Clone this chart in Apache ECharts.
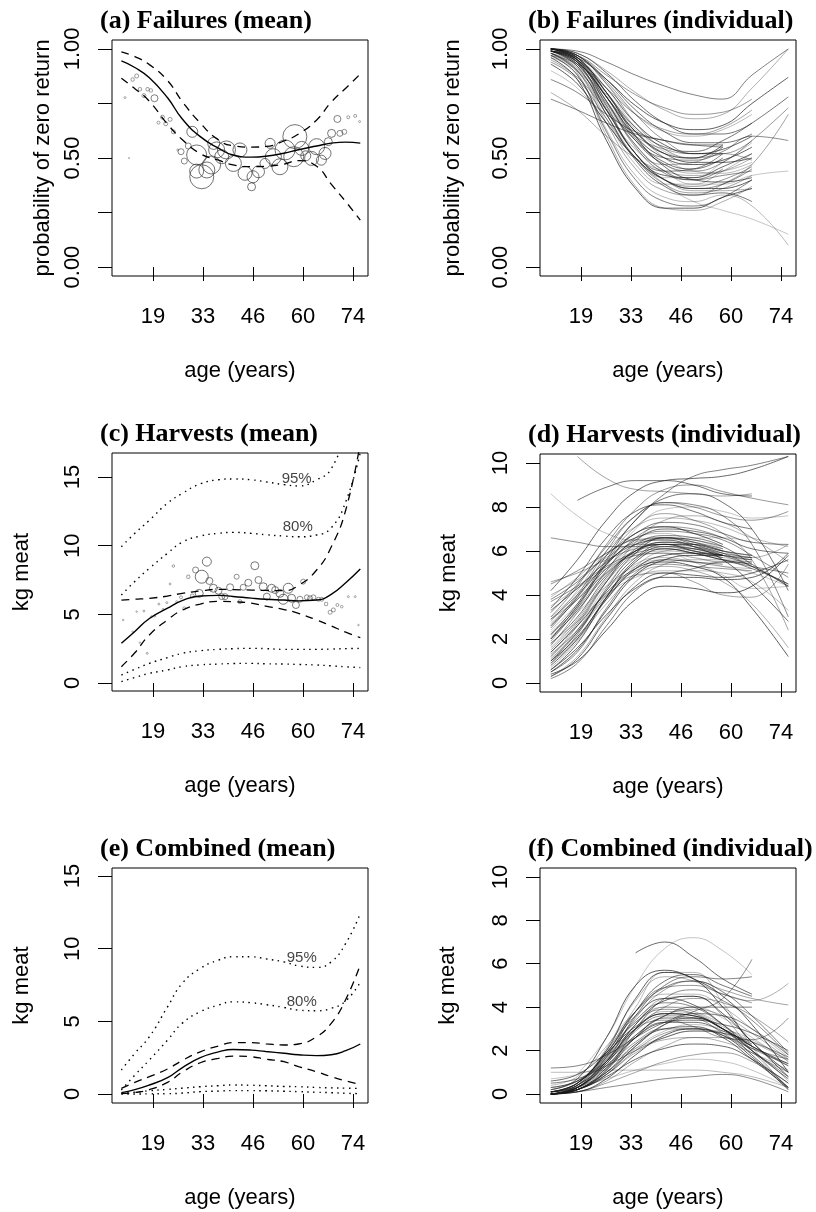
<!DOCTYPE html>
<html>
<head>
<meta charset="utf-8">
<script src="https://cdn.jsdelivr.net/npm/echarts@6/dist/echarts.min.js"></script>
<style>
html, body { margin: 0; padding: 0; background: #fff; }
#chart { width: 816px; height: 1212px; }
</style>
</head>
<body>
<div id="chart"></div>
<script>
// ====================== data ======================
var ageTicks = [19, 32.75, 46.5, 60.25, 74];
var ageTickLabels = ['19', '33', '46', '60', '74'];

// mean curves (a), (c), (e)
var meanAges = [10.3, 14, 18, 23, 27, 32, 37, 41, 46, 50, 55, 59, 64, 68, 72, 76];

var failMean = [0.945, 0.915, 0.868, 0.776, 0.68, 0.598, 0.545, 0.514, 0.504, 0.508, 0.522, 0.538, 0.555, 0.568, 0.573, 0.568];
var failHi   = [0.987, 0.965, 0.928, 0.855, 0.76, 0.66, 0.583, 0.556, 0.55, 0.553, 0.578, 0.61, 0.674, 0.756, 0.82, 0.885];
var failLo   = [0.866, 0.818, 0.76, 0.655, 0.585, 0.52, 0.49, 0.468, 0.46, 0.462, 0.472, 0.488, 0.462, 0.38, 0.3, 0.215];

var failPtsAge  = [11.3, 12.4, 13.4, 14.5, 15.4, 16.5, 17.5, 18.4, 19.4, 20.5, 21.6, 22.5, 23.7, 24.6, 25.8, 26.7, 27.6, 28.7, 29.8, 31.0, 32.4, 31.0, 33.8, 35.1, 36.5, 35.7, 37.9, 39.2, 41.1, 42.9, 44.3, 46.1, 46.5, 48.0, 49.8, 51.2, 52.1, 53.9, 55.3, 58.0, 57.7, 59.9, 61.0, 62.6, 64.0, 65.3, 66.3, 67.2, 68.1, 69.7, 70.4, 71.6, 72.7, 74.6, 75.8];
var failPtsProb = [0.777, 0.50, 0.86, 0.876, 0.815, 0.786, 0.815, 0.81, 0.774, 0.662, 0.687, 0.657, 0.677, 0.62, 0.537, 0.529, 0.486, 0.555, 0.62, 0.514, 0.414, 0.44, 0.445, 0.468, 0.537, 0.567, 0.506, 0.537, 0.475, 0.537, 0.43, 0.368, 0.414, 0.437, 0.475, 0.567, 0.506, 0.46, 0.537, 0.598, 0.506, 0.544, 0.51, 0.498, 0.552, 0.49, 0.521, 0.575, 0.613, 0.679, 0.613, 0.62, 0.687, 0.693, 0.667];
var failPtsN    = [1, 0.6, 1.7, 2, 1.7, 2, 1.7, 1.7, 3.5, 1.5, 2, 2, 2, 2, 1, 3, 3, 3, 5.5, 10, 12, 7, 8, 9, 8, 6, 7, 9, 8, 7, 7, 4, 6, 6, 5, 5, 8, 8, 10, 12, 10, 7, 5, 7, 8, 5, 6, 4, 4, 3.5, 3, 2.5, 1.5, 1.5, 1];

var harvMean  = [2.89, 3.75, 4.7, 5.45, 6.0, 6.34, 6.38, 6.3, 6.18, 6.1, 6.04, 5.98, 6.04, 6.45, 7.3, 8.3];
var harvHi    = [6.04, 6.1, 6.17, 6.33, 6.53, 6.7, 6.82, 6.8, 6.77, 6.74, 6.72, 7.1, 8.23, 9.9, 12.6, 17.5];
var harvLo    = [1.19, 2.2, 3.5, 4.6, 5.3, 5.75, 5.95, 5.92, 5.82, 5.6, 5.35, 5.07, 4.59, 4.15, 3.7, 3.3];
var harvP95Hi = [9.93, 10.9, 11.85, 13.1, 13.8, 14.5, 14.8, 14.86, 14.8, 14.65, 14.45, 14.35, 14.8, 15.6, 18.5, 23];
var harvP80Hi = [6.41, 7.4, 8.35, 9.45, 10.25, 10.7, 10.9, 10.97, 10.9, 10.8, 10.7, 10.65, 10.78, 11.3, 13.2, 16.8];
var harvP80Lo = [0.58, 1.0, 1.43, 1.85, 2.16, 2.35, 2.45, 2.5, 2.52, 2.5, 2.45, 2.45, 2.45, 2.47, 2.5, 2.52];
var harvP95Lo = [0.1, 0.4, 0.7, 0.95, 1.19, 1.32, 1.38, 1.42, 1.43, 1.4, 1.38, 1.35, 1.31, 1.25, 1.18, 1.12];

var harvPtsAge = [10.8, 13.4, 14.5, 16.5, 15.4, 17.4, 18.6, 19.5, 20.6, 21.8, 22.8, 23.7, 24.6, 25.5, 26.7, 27.6, 28.7, 29.8, 30.7, 31.7, 32.4, 33.8, 34.5, 35.6, 37.0, 37.9, 38.8, 40.2, 42.0, 42.9, 43.8, 45.2, 47.0, 48.0, 49.3, 50.3, 51.6, 52.6, 53.9, 54.8, 56.2, 57.1, 58.3, 59.4, 60.3, 61.3, 62.2, 63.1, 64.5, 65.4, 66.6, 67.7, 68.6, 69.7, 70.9, 72.7, 74.6, 75.5];
var harvPtsKg  = [4.59, 3.74, 5.2, 5.24, 2.94, 2.16, 4.83, 4.88, 5.75, 5.36, 5.85, 7.21, 8.52, 5.92, 6.24, 5.44, 7.74, 6.34, 8.23, 6.53, 7.74, 8.84, 7.43, 6.9, 6.72, 6.29, 6.29, 6.97, 7.74, 5.92, 6.97, 7.3, 8.54, 7.5, 7.01, 6.29, 6.9, 6.77, 6.53, 6.1, 6.9, 6.17, 5.68, 6.1, 7.38, 6.24, 6.17, 6.24, 6.1, 6.1, 5.75, 5.15, 5.32, 5.68, 5.56, 6.29, 6.29, 4.22];
var harvPtsN   = [0.8, 0.8, 0.8, 1, 0.8, 1, 1, 1, 1, 1, 1, 1, 1.3, 1, 1.5, 1.5, 1.7, 2, 3, 4, 6.5, 4.5, 3.5, 4, 3.5, 3, 3, 3.5, 2.5, 2, 3, 3.5, 4, 3.5, 4, 3.5, 4, 3.5, 4, 5, 5, 4, 3.5, 3, 2.5, 2.5, 2.5, 2.5, 2, 2, 1.7, 2, 2, 1.5, 1.3, 1, 1, 0.8];

var combMean  = [0.09, 0.3, 0.62, 1.12, 1.8, 2.5, 2.9, 3.06, 3.02, 2.92, 2.8, 2.7, 2.64, 2.7, 2.98, 3.44];
var combHi    = [0.39, 0.8, 1.19, 1.72, 2.3, 2.9, 3.3, 3.53, 3.53, 3.45, 3.37, 3.44, 3.94, 4.86, 6.5, 8.9];
var combLo    = [0.02, 0.1, 0.3, 0.8, 1.5, 2.15, 2.45, 2.61, 2.56, 2.4, 2.22, 1.88, 1.53, 1.19, 0.9, 0.66];
var combP95Hi = [1.65, 2.8, 3.94, 6.0, 7.6, 8.64, 9.21, 9.44, 9.44, 9.3, 9.09, 8.82, 8.71, 9.09, 10.36, 12.42];
var combP80Hi = [0.27, 1.3, 2.34, 3.71, 4.86, 5.66, 6.12, 6.34, 6.28, 6.15, 5.96, 5.77, 5.73, 5.89, 6.4, 7.7];
var combP80Lo = [0.03, 0.12, 0.22, 0.32, 0.4, 0.5, 0.57, 0.62, 0.6, 0.57, 0.52, 0.5, 0.45, 0.42, 0.4, 0.38];
var combP95Lo = [0.0, 0.0, 0.01, 0.02, 0.06, 0.16, 0.2, 0.23, 0.23, 0.22, 0.19, 0.16, 0.12, 0.09, 0.05, 0.02];

var bandLabels = ['95%', '80%'];
var harvLabelAge = [58.5, 58.8];
var harvLabelKg  = [14.86, 11.4];
var combLabelAge = [59.9, 59.9];
var combLabelKg  = [9.39, 6.34];

// individual curves (b), (d), (f)
var indivAges = [10.7, 18, 26, 34, 42, 50, 58, 66, 76];

var failIndiv = [
    [1.00, 0.99, 0.94, 0.88, 0.83, 0.79, 0.77, 0.88, 1.00],
    [1.00, 0.98, 0.90, 0.80, 0.72, 0.68, 0.70, 0.82, 1.00],
    [0.99, 0.96, 0.86, 0.74, 0.66, 0.63, 0.65, 0.75, 0.87],
    [1.00, 0.97, 0.84, 0.70, 0.62, 0.60, 0.63, 0.70, null],
    [0.99, 0.95, 0.80, 0.64, 0.55, 0.53, 0.58, 0.66, 0.78],
    [1.00, 0.96, 0.78, 0.58, 0.47, 0.44, 0.48, 0.58, 0.73],
    [1.00, 0.94, 0.72, 0.52, 0.42, 0.41, 0.46, 0.52, null],
    [0.99, 0.92, 0.70, 0.50, 0.41, 0.41, 0.48, 0.57, null],
    [1.00, 0.95, 0.76, 0.55, 0.43, 0.40, 0.45, null, null],
    [0.98, 0.90, 0.66, 0.45, 0.35, 0.33, 0.38, 0.47, 0.70],
    [0.97, 0.88, 0.62, 0.40, 0.30, 0.28, 0.32, 0.40, null],
    [0.98, 0.89, 0.60, 0.37, 0.27, 0.26, 0.30, 0.37, null],
    [0.96, 0.86, 0.58, 0.36, 0.27, 0.27, 0.32, 0.36, null],
    [0.97, 0.88, 0.63, 0.42, 0.32, 0.30, 0.33, 0.28, 0.10],
    [0.99, 0.92, 0.70, 0.49, 0.37, 0.33, 0.34, 0.30, null],
    [1.00, 0.97, 0.85, 0.70, 0.58, 0.52, 0.52, 0.58, null],
    [0.99, 0.95, 0.82, 0.66, 0.56, 0.52, 0.54, 0.60, null],
    [1.00, 0.96, 0.82, 0.64, 0.53, 0.50, 0.55, null, null],
    [0.99, 0.93, 0.75, 0.58, 0.50, 0.49, 0.53, 0.60, 0.58],
    [0.95, 0.87, 0.72, 0.60, 0.54, 0.52, 0.52, 0.49, null],
    [0.86, 0.80, 0.70, 0.62, 0.58, 0.56, 0.56, null, null],
    [0.80, 0.72, 0.60, 0.50, 0.44, 0.42, 0.44, 0.50, null],
    [0.93, 0.84, 0.66, 0.50, 0.40, 0.36, 0.36, 0.40, null],
    [0.98, 0.93, 0.79, 0.63, 0.50, 0.44, 0.43, 0.47, null],
    [1.00, 0.98, 0.89, 0.76, 0.66, 0.61, 0.61, 0.66, null],
    [0.99, 0.97, 0.88, 0.79, 0.73, 0.70, 0.71, 0.77, null],
    [1.00, 0.96, 0.80, 0.60, 0.46, 0.40, 0.39, 0.41, null],
    [0.96, 0.90, 0.74, 0.56, 0.44, 0.38, 0.38, 0.42, 0.44],
    [0.99, 0.94, 0.76, 0.56, 0.44, 0.40, 0.42, 0.44, null],
    [0.97, 0.90, 0.70, 0.50, 0.38, 0.34, 0.36, 0.42, null],
    [0.77, 0.72, 0.66, 0.61, 0.58, 0.56, 0.55, null, null],
    [0.99, 0.93, 0.73, 0.52, 0.40, 0.35, 0.35, 0.36, null],
    [1.00, 0.95, 0.78, 0.60, 0.50, 0.47, 0.49, 0.55, null],
    [0.98, 0.92, 0.76, 0.58, 0.47, 0.43, 0.44, 0.48, null],
    [1.00, 0.97, 0.86, 0.72, 0.62, 0.57, 0.57, 0.61, null],
    [0.94, 0.86, 0.68, 0.50, 0.40, 0.37, 0.40, 0.46, null],
    [0.99, 0.94, 0.78, 0.62, 0.52, 0.48, 0.48, 0.50, null],
    [0.90, 0.82, 0.66, 0.50, 0.38, 0.30, 0.26, 0.22, 0.15],
    [0.98, 0.91, 0.72, 0.52, 0.40, 0.36, 0.38, 0.45, null],
    [0.97, 0.93, 0.82, 0.70, 0.63, 0.61, 0.64, 0.72, null],
    [1.00, 0.95, 0.74, 0.52, 0.44, 0.45, 0.52, null, null],
    [0.99, 0.93, 0.72, 0.54, 0.47, 0.48, 0.55, null, null],
    [1.00, 0.96, 0.80, 0.62, 0.52, 0.50, 0.56, null, null],
    [0.98, 0.90, 0.68, 0.47, 0.38, 0.38, 0.44, 0.52, null],
    [0.99, 0.94, 0.78, 0.59, 0.48, 0.45, 0.50, null, null],
    [1.00, 0.97, 0.84, 0.66, 0.54, 0.50, 0.52, null, null]
];

var harvIndiv = [
    [0.2, 0.9, 2.6, 4.2, 4.9, 5.2, 5.5, 5.2, 4.5],
    [0.3, 1.2, 3.0, 4.6, 5.4, 5.6, 5.6, 5.5, null],
    [0.5, 1.5, 3.3, 4.9, 5.6, 5.8, 5.8, null, null],
    [0.7, 1.9, 3.8, 5.3, 6.0, 6.1, 5.9, 5.7, null],
    [1.0, 2.3, 4.2, 5.7, 6.3, 6.3, 6.0, null, null],
    [1.5, 2.8, 4.6, 5.9, 6.4, 6.2, 5.8, 5.3, 4.4],
    [2.0, 3.3, 4.9, 6.0, 6.4, 6.3, 6.0, 5.8, null],
    [2.4, 3.6, 5.1, 6.2, 6.6, 6.5, 6.1, null, null],
    [3.7, 4.4, 5.3, 5.9, 6.1, 5.9, 5.6, 5.3, 5.0],
    [4.6, 5.0, 5.6, 6.1, 6.3, 6.1, 5.8, 5.6, null],
    [3.8, 4.6, 5.8, 6.8, 7.3, 7.2, 6.8, 6.4, 6.3],
    [1.2, 2.6, 4.6, 6.4, 7.4, 7.6, 7.3, 6.6, 5.5],
    [0.4, 1.0, 2.4, 3.8, 4.4, 4.3, 4.1, 4.4, 5.8],
    [1.8, 2.8, 4.0, 4.8, 5.1, 5.1, 5.0, 4.6, 3.3],
    [2.2, 3.6, 5.6, 7.4, 8.4, 8.6, 8.2, 7.0, 4.2],
    [3.0, 4.4, 6.3, 7.9, 8.8, 9.0, 8.7, 8.4, 8.1],
    [4.2, 5.6, 7.4, 8.7, 9.2, 9.3, 9.4, 9.7, 10.3],
    [8.6, 7.6, 6.8, 6.5, 6.5, 6.6, 6.6, 6.4, null],
    [6.6, 6.4, 6.2, 6.2, 6.3, 6.2, 5.9, 5.3, 4.5],
    [null, 10.3, 9.3, 8.8, 8.7, 8.6, 8.5, 8.6, null],
    [2.6, 3.8, 5.2, 6.3, 6.7, 6.6, 6.2, 5.4, 4.4],
    [0.9, 2.0, 3.6, 4.9, 5.3, 5.1, 4.6, 3.6, 1.6],
    [1.4, 2.6, 4.1, 5.2, 5.5, 5.3, 4.8, 3.4, 1.2],
    [2.8, 4.2, 6.0, 7.1, 7.5, 7.4, 7.1, 6.6, 6.2],
    [3.4, 4.8, 6.6, 7.8, 8.1, 7.8, 7.3, 7.0, null],
    [1.7, 3.2, 5.1, 6.6, 7.1, 7.0, 6.6, null, null],
    [0.6, 1.6, 3.1, 4.3, 4.8, 4.8, 4.7, 4.8, 5.9],
    [2.1, 3.2, 4.4, 5.3, 5.6, 5.5, 5.3, 5.0, 4.4],
    [3.2, 4.5, 6.2, 7.6, 8.2, 8.1, 7.6, 6.3, 3.0],
    [1.1, 2.3, 3.9, 4.9, 5.0, 4.6, 4.0, 3.9, 5.4],
    [2.5, 3.9, 5.8, 7.4, 8.6, 9.4, 9.7, 9.9, 10.3],
    [1.6, 2.9, 4.7, 6.0, 6.6, 6.4, 6.0, 5.7, 6.3],
    [0.8, 2.0, 3.9, 5.5, 6.1, 5.9, 5.6, 5.4, null],
    [3.9, 4.8, 5.9, 6.5, 6.6, 6.3, 5.8, null, null],
    [2.9, 4.0, 5.4, 6.5, 7.0, 6.9, 6.6, 6.1, 5.9],
    [1.3, 2.4, 4.0, 5.1, 5.4, 5.3, 5.2, 5.1, null],
    [0.3, 1.1, 2.9, 4.4, 5.0, 4.9, 4.8, 5.0, 5.6],
    [2.3, 3.5, 5.3, 7.0, 7.9, 8.0, 7.8, 7.5, 7.6],
    [4.5, 5.1, 5.9, 6.6, 6.9, 6.8, 6.5, 5.8, 4.8],
    [1.9, 3.4, 5.5, 7.1, 7.7, 7.4, 6.8, 5.6, 2.4],
    [0.5, 1.4, 3.4, 5.0, 5.6, 5.5, 5.4, null, null],
    [2.7, 3.9, 5.4, 6.4, 6.6, 6.3, 5.9, 5.7, null],
    [1.0, 2.1, 3.8, 5.2, 5.8, 5.9, 5.8, null, null],
    [3.5, 4.3, 5.2, 5.8, 6.0, 5.9, 5.7, 5.6, null],
    [1.8, 3.0, 4.8, 6.0, 6.3, 6.0, 5.7, null, null],
    [2.2, 3.4, 5.0, 6.0, 6.2, 6.0, 5.8, 5.6, null],
    [0.6, 1.8, 3.9, 5.6, 6.2, 6.1, 5.8, null, null],
    [3.0, 4.1, 5.6, 6.6, 6.8, 6.4, 6.0, 5.8, null],
    [1.4, 2.7, 4.6, 6.1, 6.6, 6.4, 6.1, null, null],
    [2.9, 3.8, 5.0, 5.8, 5.9, 5.7, 5.5, 5.5, null],
    [0.9, 2.2, 4.3, 5.9, 6.6, 6.5, 6.2, null, null],
    [4.0, 4.7, 5.7, 6.3, 6.3, 6.0, 5.8, 5.7, null],
    [2.0, 3.5, 5.4, 6.8, 7.1, 6.8, 6.3, null, null],
    [1.2, 2.4, 4.2, 5.4, 5.7, 5.5, 5.3, 5.2, null],
    [null, 8.3, 8.9, 9.2, 9.2, 9.0, 8.6, 8.5, null],
    [2.6, 4.0, 6.0, 7.6, 8.2, 8.0, 7.6, 7.4, 7.8],
    [3.3, 4.3, 5.5, 6.3, 6.5, 6.2, 5.6, 4.5, 2.8],
    [1.0, 2.4, 4.4, 5.7, 5.9, 5.5, 4.9, 4.3, 4.4]
];

var combIndiv = [
    [0.0, 0.2, 0.9, 2.2, 3.2, 3.5, 3.0, 2.0, 0.8],
    [0.0, 0.3, 1.4, 3.2, 4.4, 4.5, 3.6, 2.0, 0.3],
    [0.1, 0.5, 2.0, 4.4, 5.6, 5.3, 4.0, 2.4, 1.0],
    [0.0, 0.4, 1.8, 4.0, 5.6, 5.6, 4.2, 2.2, 0.2],
    [0.0, 0.2, 1.1, 2.6, 3.5, 3.5, 3.0, 2.2, 1.4],
    [0.1, 0.3, 1.2, 2.4, 3.0, 3.0, 2.7, 2.1, 1.6],
    [0.0, 0.2, 0.8, 1.6, 2.1, 2.3, 2.2, 1.6, 0.5],
    [0.1, 0.3, 0.7, 1.1, 1.4, 1.6, 1.5, 1.1, 0.3],
    [0.0, 0.1, 0.3, 0.5, 0.7, 0.8, 0.9, 0.7, 0.1],
    [0.3, 0.6, 1.6, 3.0, 4.0, 4.4, 4.2, 3.6, 2.4],
    [1.2, 1.3, 1.8, 2.6, 3.3, 3.7, 3.6, 3.0, 1.8],
    [0.0, 0.4, 2.1, 4.3, 5.4, 5.2, 4.6, 4.3, 5.1],
    [0.2, 0.7, 2.6, 5.0, 5.7, 5.3, 4.5, 3.2, 1.0],
    [0.4, 0.8, 2.2, 3.8, 4.6, 4.6, 4.0, 3.0, 1.7],
    [0.0, 0.3, 1.3, 2.6, 3.3, 3.4, 3.2, 2.8, 2.0],
    [0.1, 0.5, 1.7, 3.0, 3.4, 3.1, 2.6, 2.5, 3.5],
    [null, null, null, 6.5, 7.0, 6.3, 5.3, 4.6, null],
    [null, 0.9, 2.6, 5.0, 6.7, 7.2, 6.6, 5.5, null],
    [0.0, 0.3, 1.0, 2.2, 3.2, 3.8, 4.4, 6.2, null],
    [0.0, 0.2, 0.9, 2.0, 2.8, 3.0, 2.8, 2.2, 1.3],
    [0.5, 0.7, 1.3, 2.0, 2.6, 2.9, 2.8, 2.4, 1.7],
    [0.0, 0.1, 0.6, 1.5, 2.2, 2.6, 2.6, 2.0, 0.6],
    [0.1, 0.4, 1.5, 3.2, 4.3, 4.5, 3.7, 2.4, 0.8],
    [0.0, 0.3, 1.4, 3.0, 3.8, 3.7, 3.1, 2.4, 1.6],
    [0.3, 0.6, 1.5, 2.7, 3.6, 4.0, 4.0, 4.0, null],
    [0.1, 0.5, 2.0, 3.8, 4.9, 5.0, 4.6, 4.2, null],
    [0.0, 0.2, 1.0, 2.3, 3.0, 3.1, 2.6, 1.6, 0.3],
    [0.7, 0.9, 1.4, 2.1, 2.6, 2.9, 2.9, 2.5, 1.5],
    [0.0, 0.2, 1.1, 3.0, 4.4, 4.8, 4.3, 3.4, 1.8],
    [0.1, 0.4, 1.6, 3.5, 4.8, 5.2, 4.8, 4.4, 4.1],
    [0.0, 0.3, 1.5, 3.6, 5.0, 5.4, 5.3, 5.4, null],
    [0.0, 0.2, 0.9, 1.9, 2.5, 2.6, 2.4, 1.9, 1.1],
    [0.0, 0.1, 0.7, 1.8, 2.7, 3.0, 2.7, 1.7, 0.2],
    [1.0, 1.0, 1.1, 1.1, 1.1, 1.1, 1.0, 0.8, 0.3],
    [0.0, 0.3, 1.7, 3.8, 5.2, 5.5, 5.0, 4.5, null],
    [0.0, 0.4, 1.8, 3.3, 3.9, 3.7, 3.0, 2.1, 1.4],
    [0.6, 0.9, 1.9, 3.1, 3.7, 3.6, 3.0, 1.8, 0.3],
    [0.0, 0.2, 1.2, 3.0, 4.0, 4.0, 3.5, 2.6, 1.5],
    [0.2, 0.6, 1.8, 3.4, 4.2, 4.0, 3.2, 2.2, 1.3],
    [0.0, 0.1, 0.5, 1.0, 1.5, 1.8, 1.9, 1.5, 0.5],
    [0.1, 0.5, 1.9, 3.8, 4.9, 5.2, 4.7, 3.6, 1.9],
    [0.0, 0.3, 1.3, 2.7, 3.6, 3.9, 3.6, 2.8, 1.6],
    [0.0, 0.3, 1.5, 3.0, 3.7, 3.6, 3.0, 2.2, null],
    [0.1, 0.4, 1.7, 3.3, 4.0, 3.8, 3.2, null, null],
    [0.0, 0.2, 1.2, 2.6, 3.3, 3.3, 2.9, 2.3, null],
    [0.0, 0.3, 1.4, 2.9, 3.6, 3.5, 2.8, 1.9, 1.0],
    [0.1, 0.5, 1.9, 3.6, 4.4, 4.1, 3.2, 2.0, 0.7],
    [0.0, 0.2, 1.0, 2.1, 2.9, 3.2, 3.0, null, null]
];

// ====================== layout ======================
var SANS = 'Liberation Sans, Arial, Helvetica, sans-serif';
var SERIF = 'Liberation Serif, Times New Roman, serif';
var xRange = [7.72, 78.12];

var panels = [
    { title: '(a) Failures (mean)',       left: 112, top: 40,  height: 236, yMin: -0.041, yMax: 1.041, yTicks: [0, 0.25, 0.5, 0.75, 1], yLabels: [0, 0.5, 1], dec: 2, yName: 'probability of zero return', nameGap: 58 },
    { title: '(b) Failures (individual)', left: 540, top: 40,  height: 236, yMin: -0.041, yMax: 1.041, yTicks: [0, 0.25, 0.5, 0.75, 1], yLabels: [0, 0.5, 1], dec: 2, yName: 'probability of zero return', nameGap: 76 },
    { title: '(c) Harvests (mean)',       left: 112, top: 453, height: 238, yMin: -0.583, yMax: 16.75, yTicks: [0, 5, 10, 15], yLabels: [0, 5, 10, 15], dec: 0, yName: 'kg meat', nameGap: 79 },
    { title: '(d) Harvests (individual)', left: 540, top: 454, height: 238, yMin: -0.41, yMax: 10.41, yTicks: [0, 2, 4, 6, 8, 10], yLabels: [0, 2, 4, 6, 8, 10], dec: 0, yName: 'kg meat', nameGap: 80 },
    { title: '(e) Combined (mean)',       left: 112, top: 868, height: 235, yMin: -0.62, yMax: 15.55, yTicks: [0, 5, 10, 15], yLabels: [0, 5, 10, 15], dec: 0, yName: 'kg meat', nameGap: 79 },
    { title: '(f) Combined (individual)', left: 540, top: 868, height: 235, yMin: -0.415, yMax: 10.41, yTicks: [0, 2, 4, 6, 8, 10], yLabels: [0, 2, 4, 6, 8, 10], dec: 0, yName: 'kg meat', nameGap: 81 }
];

var chart = echarts.init(document.getElementById('chart'), null, { renderer: 'canvas' });

var titles = [], grids = [], xAxes = [], yAxes = [], series = [];

panels.forEach(function (p, i) {
    titles.push({
        text: p.title,
        left: p.left - 12,
        top: p.top - 32,
        padding: 0,
        textStyle: { fontFamily: SERIF, fontWeight: 'bold', fontSize: 26, color: '#000' }
    });
    grids.push({
        left: p.left, top: p.top, width: 256, height: p.height,
        show: true, borderColor: '#000', borderWidth: 1, backgroundColor: 'transparent'
    });
    xAxes.push({
        type: 'value', gridIndex: i, min: xRange[0], max: xRange[1],
        axisLine: { show: false },
        axisTick: { show: true, length: 14, customValues: ageTicks, lineStyle: { color: '#000', width: 1 } },
        axisLabel: {
            customValues: ageTicks, margin: 30, fontSize: 22, color: '#000', fontFamily: SANS,
            formatter: function (v) { return ageTickLabels[ageTicks.indexOf(v)]; }
        },
        splitLine: { show: false },
        name: 'age (years)', nameLocation: 'middle', nameGap: 84,
        nameTextStyle: { fontSize: 22, color: '#000', fontFamily: SANS }
    });
    yAxes.push({
        type: 'value', gridIndex: i, min: p.yMin, max: p.yMax,
        axisLine: { show: false },
        axisTick: { show: true, length: 14, customValues: p.yTicks, lineStyle: { color: '#000', width: 1 } },
        axisLabel: {
            customValues: p.yLabels, rotate: 90, margin: 28, fontSize: 22, color: '#000', fontFamily: SANS,
            formatter: (function (dec) { return function (v) { return v.toFixed(dec); }; })(p.dec)
        },
        splitLine: { show: false },
        name: p.yName, nameLocation: 'middle', nameGap: p.nameGap,
        nameTextStyle: { fontSize: 22, color: '#000', fontFamily: SANS }
    });
});

var SOLID = { color: '#000', width: 1.4, type: 'solid' };
var DASH = { color: '#000', width: 1.3, type: [8, 6] };
var DOT = { color: '#000', width: 1.4, type: [1.5, 4.5] };

// only points that exist (curves start / stop at different ages)
function pairs(ages, vals) {
    var out = [];
    ages.forEach(function (a, k) {
        if (vals[k] != null) out.push([a, vals[k]]);
    });
    return out;
}

function curve(gi, ages, vals, style, smooth) {
    return {
        type: 'line', xAxisIndex: gi, yAxisIndex: gi, silent: true,
        symbol: 'none', smooth: smooth, clip: true,
        data: pairs(ages, vals),
        lineStyle: style, z: 4
    };
}

function circles(gi, ages, vals, n) {
    return {
        type: 'scatter', xAxisIndex: gi, yAxisIndex: gi, silent: true, z: 3,
        data: ages.map(function (a, k) {
            var alpha = Math.min(0.9, 0.4 + n[k] * 0.12);
            return { value: [a, vals[k], n[k]], itemStyle: { borderColor: 'rgba(60,60,60,' + alpha + ')' } };
        }),
        symbol: 'circle',
        symbolSize: function (d) { return 2 * d[2]; },
        itemStyle: { color: 'rgba(0,0,0,0)', borderWidth: 1 }
    };
}

function bandText(gi, ages, vals) {
    return {
        type: 'scatter', xAxisIndex: gi, yAxisIndex: gi, silent: true, z: 5,
        symbolSize: 1, itemStyle: { color: 'rgba(0,0,0,0)' },
        data: ages.map(function (a, k) { return { value: [a, vals[k]], name: bandLabels[k] }; }),
        label: { show: true, position: 'inside', formatter: '{b}', fontSize: 15, color: '#111', fontFamily: SANS }
    };
}

var alphas = [0.55, 0.35, 0.7, 0.3, 0.6, 0.45, 0.65, 0.25, 0.5, 0.4];
function bundle(gi, curves) {
    curves.forEach(function (c, k) {
        series.push(curve(gi, indivAges, c, { color: 'rgba(25,25,25,' + alphas[k % alphas.length] + ')', width: 1, type: 'solid' }, 0.45));
    });
}

// (a)
series.push(circles(0, failPtsAge, failPtsProb, failPtsN));
series.push(curve(0, meanAges, failMean, SOLID, 0.5));
series.push(curve(0, meanAges, failHi, DASH, 0.5));
series.push(curve(0, meanAges, failLo, DASH, 0.5));
// (b)
bundle(1, failIndiv);
// (c)
series.push(circles(2, harvPtsAge, harvPtsKg, harvPtsN));
series.push(curve(2, meanAges, harvMean, SOLID, 0.5));
series.push(curve(2, meanAges, harvHi, DASH, 0.5));
series.push(curve(2, meanAges, harvLo, DASH, 0.5));
series.push(curve(2, meanAges, harvP95Hi, DOT, 0.5));
series.push(curve(2, meanAges, harvP80Hi, DOT, 0.5));
series.push(curve(2, meanAges, harvP80Lo, DOT, 0.5));
series.push(curve(2, meanAges, harvP95Lo, DOT, 0.5));
series.push(bandText(2, harvLabelAge, harvLabelKg));
// (d)
bundle(3, harvIndiv);
// (e)
series.push(curve(4, meanAges, combMean, SOLID, 0.5));
series.push(curve(4, meanAges, combHi, DASH, 0.5));
series.push(curve(4, meanAges, combLo, DASH, 0.5));
series.push(curve(4, meanAges, combP95Hi, DOT, 0.5));
series.push(curve(4, meanAges, combP80Hi, DOT, 0.5));
series.push(curve(4, meanAges, combP80Lo, DOT, 0.5));
series.push(curve(4, meanAges, combP95Lo, DOT, 0.5));
series.push(bandText(4, combLabelAge, combLabelKg));
// (f)
bundle(5, combIndiv);

chart.setOption({
    animation: false,
    backgroundColor: '#fff',
    title: titles,
    grid: grids,
    xAxis: xAxes,
    yAxis: yAxes,
    series: series
});
</script>
</body>
</html>
